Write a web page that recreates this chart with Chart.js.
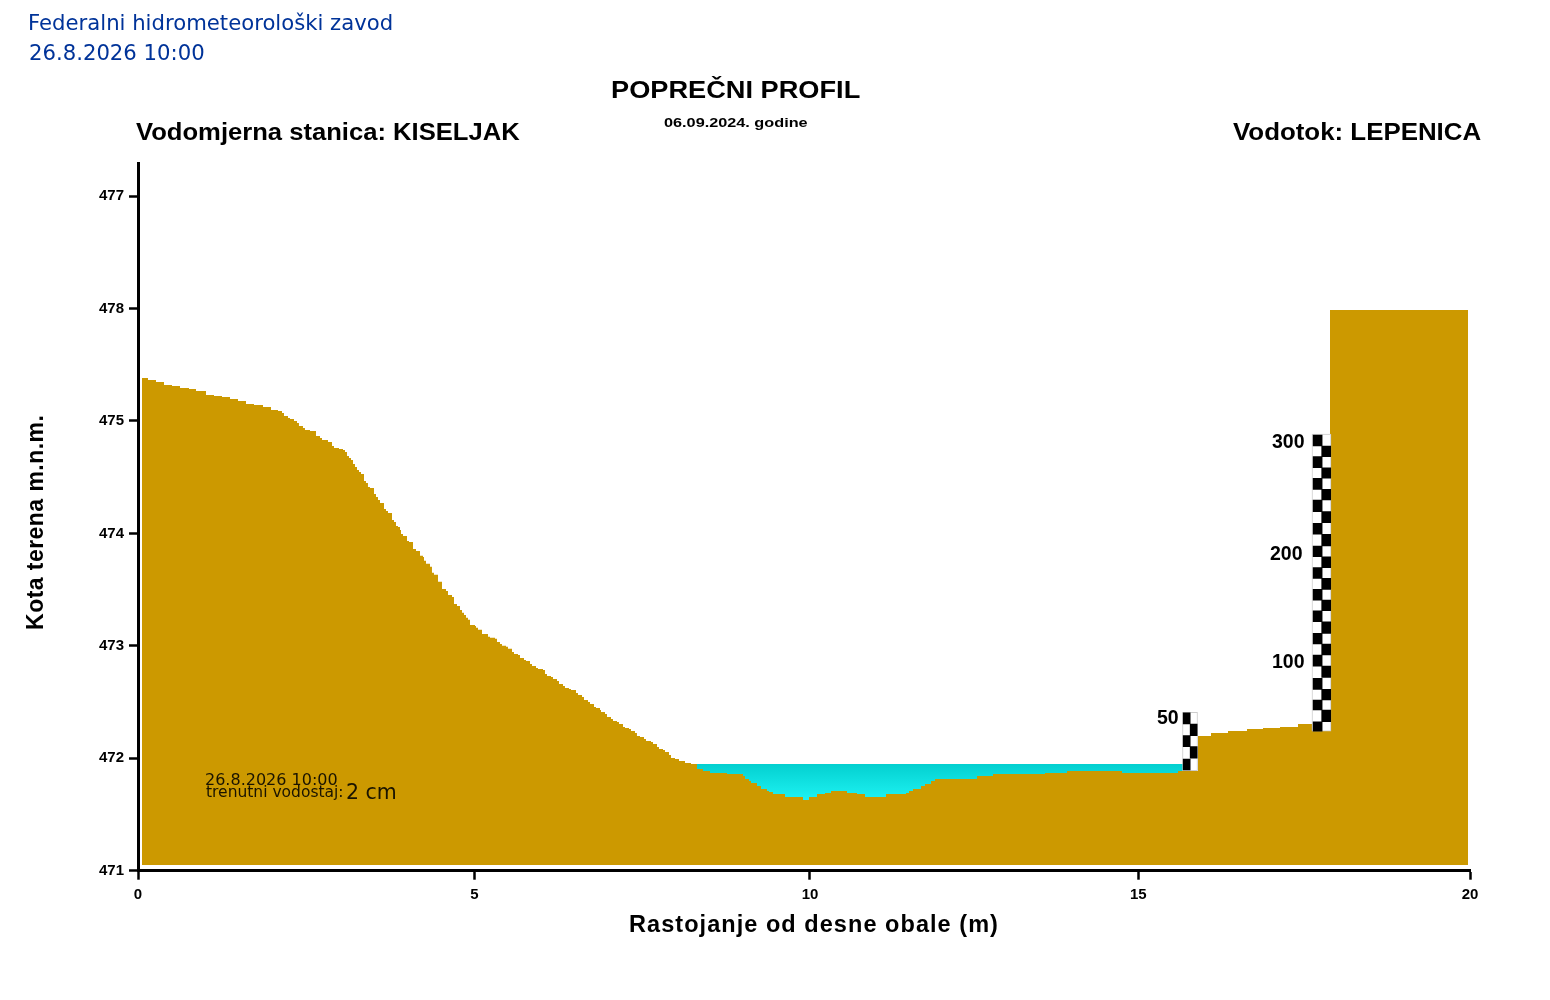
<!DOCTYPE html>
<html><head><meta charset="utf-8">
<script src="https://cdn.jsdelivr.net/npm/chart.js@4"></script>
<style>
html,body{margin:0;padding:0;background:#fff;width:1550px;height:1000px;overflow:hidden}
#wrap{position:relative;width:1550px;height:1000px}
canvas{position:absolute;left:0;top:0}
.t{position:absolute;white-space:nowrap;line-height:1;font-family:"Liberation Sans",Arial,sans-serif;font-weight:bold;color:#000;transform-origin:0 50%}
.d{font-family:"DejaVu Sans",sans-serif;font-weight:normal}
.b{color:#003399;font-size:21.2px}
</style></head><body>
<div id="wrap">
<canvas id="c" width="1550" height="1000"></canvas>
<div class="t d b" style="left:28px;top:12px">Federalni hidrometeorološki zavod</div>
<div class="t d b" style="left:29px;top:42px">26.8.2026 10:00</div>
<div class="t" style="left:611px;top:78px;font-size:24px;transform:scaleX(1.133)">POPREČNI PROFIL</div>
<div class="t" style="left:664px;top:116px;font-size:13px;transform:scaleX(1.25)">06.09.2024. godine</div>
<div class="t" style="left:136px;top:120px;font-size:24px;transform:scaleX(1.067)">Vodomjerna stanica: KISELJAK</div>
<div class="t" style="left:1233px;top:120px;font-size:24px;transform:scaleX(1.078)">Vodotok: LEPENICA</div>
<div class="t" style="left:1157px;top:708px;font-size:19.5px">50</div>
<div class="t" style="left:1272px;top:652px;font-size:19.5px">100</div>
<div class="t" style="left:1270px;top:544px;font-size:19.5px">200</div>
<div class="t" style="left:1272px;top:432px;font-size:19.5px">300</div>
<div class="t d" style="left:205px;top:772px;font-size:16px;color:#1a1400">26.8.2026 10:00</div>
<div class="t d" style="left:206px;top:785px;font-size:15.5px;color:#1a1400">trenutni vodostaj:</div>
<div class="t d" style="left:346px;top:782px;font-size:20.5px;color:#1a1400">2 cm</div>
</div>
<script>
const yTickLabels = {471:"471",472:"472",473:"473",474:"474",475:"475",476:"478",477:"477"};
const xTickValues = [0,5.05,10.09,15.02,20];
const xTickLabels = ["0","5","10","15","20"];

const terrainX = [
0.060,0.150,0.270,0.390,0.511,0.631,0.766,0.871,1.021,1.141,
1.261,1.381,1.502,1.622,1.742,1.877,1.997,2.102,2.162,2.192,
2.252,2.282,2.342,2.387,2.417,2.477,2.507,2.583,2.673,2.733,
2.763,2.853,2.913,2.943,3.018,3.078,3.108,3.138,3.168,3.198,
3.228,3.258,3.288,3.318,3.348,3.393,3.423,3.453,3.483,3.544,
3.574,3.604,3.634,3.694,3.724,3.754,3.814,3.844,3.874,3.904,
3.934,3.949,3.979,4.039,4.069,4.129,4.174,4.234,4.279,4.294,
4.324,4.384,4.414,4.444,4.505,4.565,4.625,4.655,4.715,4.745,
4.790,4.835,4.865,4.895,4.925,4.955,4.985,5.060,5.075,5.105,
5.165,5.255,5.285,5.360,5.390,5.435,5.465,5.526,5.556,5.616,
5.646,5.706,5.736,5.796,5.826,5.886,5.916,5.976,6.006,6.081,
6.111,6.141,6.201,6.231,6.291,6.321,6.381,6.411,6.471,6.501,
6.577,6.607,6.667,6.697,6.757,6.787,6.847,6.877,6.937,6.952,
7.012,7.042,7.102,7.132,7.192,7.222,7.282,7.312,7.372,7.402,
7.462,7.492,7.538,7.598,7.628,7.703,7.733,7.793,7.823,7.883,
7.913,7.973,8.003,8.063,8.123,8.213,8.303,8.393,8.483,8.589,
8.844,9.084,9.114,9.174,9.204,9.294,9.354,9.444,9.474,9.534,
9.715,9.985,10.075,10.195,10.315,10.405,10.646,10.796,10.916,11.231,
11.532,11.577,11.637,11.757,11.817,11.907,11.967,12.598,12.838,13.619,
13.949,14.775,15.616,15.916,16.111,16.366,16.652,16.892,17.147,17.417,
17.628,17.898,19.970];
const terrainY = [
475.382,475.364,475.346,475.319,475.310,475.293,475.284,475.266,475.231,475.222,
475.213,475.195,475.177,475.151,475.142,475.124,475.097,475.088,475.071,475.044,
475.026,475.017,474.999,474.982,474.955,474.937,474.919,474.911,474.866,474.848,
474.830,474.813,474.777,474.759,474.750,474.741,474.724,474.688,474.670,474.653,
474.617,474.590,474.564,474.546,474.528,474.466,474.448,474.412,474.404,474.350,
474.324,474.297,474.270,474.217,474.199,474.181,474.119,474.101,474.066,474.057,
474.030,473.994,473.977,473.932,473.924,473.862,473.844,473.800,473.791,473.756,
473.729,473.703,473.649,473.631,473.569,473.506,473.488,473.453,473.435,473.372,
473.355,473.319,473.293,473.275,473.249,473.231,473.186,473.177,473.160,473.142,
473.106,473.080,473.071,473.062,473.035,473.017,473.000,472.991,472.973,472.946,
472.928,472.919,472.892,472.874,472.865,472.839,472.821,472.803,472.794,472.785,
472.749,472.732,472.723,472.705,472.687,472.660,472.643,472.625,472.616,472.607,
472.580,472.563,472.545,472.518,472.500,472.482,472.456,472.447,472.429,472.411,
472.394,472.367,472.349,472.331,472.322,472.305,472.278,472.269,472.260,472.242,
472.225,472.198,472.189,472.171,472.153,472.145,472.127,472.100,472.082,472.073,
472.056,472.029,472.002,471.993,471.976,471.958,471.949,471.905,471.887,471.869,
471.860,471.843,471.816,471.798,471.780,471.754,471.727,471.709,471.700,471.682,
471.655,471.629,471.655,471.682,471.691,471.709,471.691,471.682,471.655,471.682,
471.691,471.709,471.727,471.754,471.771,471.798,471.816,471.843,471.860,471.869,
471.887,471.869,471.887,472.198,472.225,472.242,472.260,472.269,472.278,472.305,
472.269,475.986,475.986];
const terrainBase = 471.05;

const waterX = [8.393,15.72];
const waterY = [471.949,471.949];
const waterBase = 471.6;

const gaugeLargeFrameX = 17.770;
const gaugeLargeFrame = [472.242,474.884];
const gaugeSmallFrameX = 15.796;
const gaugeSmallFrame = [471.889,472.409];
const gaugeLargeLeftX = 17.712;
const gaugeLargeRightX = 17.841;
const gaugeLargeLeft = [[474.777,474.875],[474.584,474.682],[474.392,474.490],[474.193,474.297],[473.992,474.089],[473.792,473.888],[473.600,473.695],[473.407,473.502],[473.214,473.312],[473.016,473.111],[472.820,472.918],[472.613,472.711],[472.429,472.518],[472.242,472.325]];
const gaugeLargeRight = [[474.682,474.777],[474.490,474.584],[474.297,474.392],[474.095,474.193],[473.888,473.992],[473.695,473.792],[473.502,473.600],[473.312,473.407],[473.111,473.214],[472.918,473.016],[472.720,472.820],[472.518,472.613],[472.325,472.429]];
const gaugeSmallLeftX = 15.746;
const gaugeSmallRightX = 15.851;
const gaugeSmallLeft = [[472.305,472.405],[472.103,472.201],[471.896,471.993]];
const gaugeSmallRight = [[472.201,472.305],[472.000,472.103]];

const pts = (xs, ys) => xs.map((x,i)=>({x, y:ys[i]}));
const bars = (x, rs) => rs.map(r=>({x, y:r}));
const f = 'Liberation Sans';
function styleTitle(s, dx, dy, spacing){
  if(s._styled) return; s._styled = true;
  const o = s.drawTitle;
  s.drawTitle = function(){
    const c = this.ctx; c.save(); c.translate(dx,dy); c.letterSpacing = spacing;
    o.call(this); c.restore();
  };
}

new Chart(document.getElementById('c'), {
  type:'line',
  data:{datasets:[
    {type:'bar',label:'Letva crna',order:1,grouped:false,barThickness:9,backgroundColor:'#000',borderWidth:0,
     data:[...bars(gaugeLargeLeftX,gaugeLargeLeft),...bars(gaugeLargeRightX,gaugeLargeRight)]},
    {type:'bar',label:'Letva mala crna',order:1,grouped:false,barThickness:7,backgroundColor:'#000',borderWidth:0,
     data:[...bars(gaugeSmallLeftX,gaugeSmallLeft),...bars(gaugeSmallRightX,gaugeSmallRight)]},
    {type:'bar',label:'Letva',order:2,grouped:false,barThickness:19,backgroundColor:'#fff',borderColor:'#ccc',borderWidth:1,borderSkipped:false,
     data:bars(gaugeLargeFrameX,[gaugeLargeFrame])},
    {type:'bar',label:'Letva mala',order:2,grouped:false,barThickness:15,backgroundColor:'#fff',borderColor:'#ccc',borderWidth:1,borderSkipped:false,
     data:bars(gaugeSmallFrameX,[gaugeSmallFrame])},
    {label:'Teren',order:3,data:pts(terrainX,terrainY),stepped:'before',borderWidth:0,pointRadius:0,
     backgroundColor:'#cc9900',fill:{value:terrainBase}},
    {label:'Voda',order:4,data:pts(waterX,waterY),borderWidth:0,pointRadius:0,
     fill:{value:waterBase},
     backgroundColor(ctx){
       const ch=ctx.chart; if(!ch.chartArea||!ch.scales.y) return '#0dd8d8';
       const g=ch.ctx.createLinearGradient(0,ch.scales.y.getPixelForValue(waterY[0]),0,ch.scales.y.getPixelForValue(471.63));
       g.addColorStop(0,'#03d0d0'); g.addColorStop(1,'#1ef2f2'); return g;
     }}
  ]},
  options:{
    responsive:false,animation:false,events:[],
    layout:{padding:{left:0,right:80,top:163,bottom:0}},
    plugins:{legend:{display:false},tooltip:{enabled:false},title:{display:false},
      filler:{drawTime:'beforeDatasetDraw',propagate:false}},
    scales:{
      x:{type:'linear',min:0,max:20,offset:false,
        afterFit(s){s.height=129.3; styleTitle(s,10,0,'1.05px')},
        afterBuildTicks(s){s.ticks=xTickValues.map(v=>({value:v}))},
        border:{display:true,color:'#000',width:3},
        grid:{display:true,offset:false,drawOnChartArea:false,drawTicks:true,tickLength:9,tickWidth:2.5,tickColor:'#000'},
        ticks:{color:'#000',padding:6,maxRotation:0,autoSkip:false,font:{family:f,weight:'bold',size:15},
          callback:(v,i)=>xTickLabels[i]},
        title:{display:true,text:'Rastojanje od desne obale (m)',color:'#000',font:{family:f,weight:'bold',size:23.5},padding:{top:10,bottom:60}}
      },
      y:{type:'linear',min:471,max:477.294,
        afterFit(s){s.width=138; styleTitle(s,0,5.5,'0.45px')},
        border:{display:true,color:'#000',width:3},
        grid:{display:true,drawOnChartArea:false,drawTicks:true,tickLength:9,tickWidth:2.5,tickColor:'#000'},
        ticks:{color:'#000',padding:5,stepSize:1,includeBounds:false,autoSkip:false,font:{family:f,weight:'bold',size:15},
          callback:v=>yTickLabels[v]},
        title:{display:true,text:'Kota terena m.n.m.',color:'#000',font:{family:f,weight:'bold',size:23},padding:{top:23,bottom:0}}
      }
    }
  }
});
</script>
</body></html>
